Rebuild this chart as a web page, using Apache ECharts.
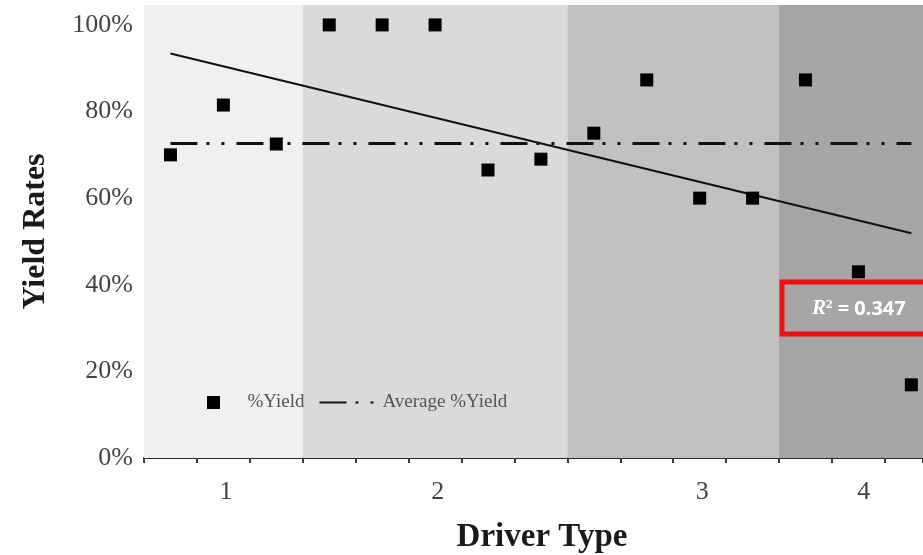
<!DOCTYPE html>
<html>
<head>
<meta charset="utf-8">
<script src="https://cdn.jsdelivr.net/npm/echarts@6/dist/echarts.min.js"></script>
<style>
  html, body { margin: 0; padding: 0; background: #fff; }
  #chart { width: 923px; height: 555px; }
</style>
</head>
<body>
<div id="chart"></div>
<script>
// Driver groups shown under the x axis and where their labels sit (run index units)
const driverTypes = ['1', '2', '3', '4'];
const driverLabelPos = [1.55, 5.55, 10.55, 13.6];
// Run index boundaries of each driver-type band
const bandEdges = [0, 3, 8, 12, 15];
const bandColors = ['#f0f0f0', '#dadada', '#c1c1c1', '#a6a6a6'];

// Yield per run (%), one run per x slot
const yieldPct = [70, 81.5, 72.5, 100, 100, 100, 66.5, 69, 75, 87.3, 60, 60, 87.3, 43, 16.9];
// Average yield (%)
const avgYield = 72.6;
// Linear trend end values (%) at the first and last run
const trendEnds = [93.4, 51.9];
const rSquared = '0.347';

// y-axis ticks
const yTicks = [0, 20, 40, 60, 80, 100];

const serif = '"Liberation Serif", "Times New Roman", serif';

const xs = yieldPct.map((_, i) => i + 0.5);
const scatterData = yieldPct.map((v, i) => [xs[i], v]);
const firstX = xs[0], lastX = xs[xs.length - 1];

const bands = [];
for (let i = 0; i < bandColors.length; i++) {
  bands.push([
    { xAxis: bandEdges[i], itemStyle: { color: bandColors[i] } },
    { xAxis: bandEdges[i + 1] }
  ]);
}

const chart = echarts.init(document.getElementById('chart'), null, { renderer: 'canvas' });

chart.setOption({
  animation: false,
  backgroundColor: '#ffffff',
  grid: { left: 144, right: 0, top: 5, bottom: 97, containLabel: false, outerBoundsMode: 'none' },
  xAxis: {
    type: 'value',
    min: 0,
    max: 14.72,
    interval: 1,
    splitLine: { show: false },
    axisLine: { show: true, lineStyle: { color: '#2a2a2a', width: 2 } },
    axisTick: { show: true, length: 5, lineStyle: { color: '#3a3a3a', width: 2 } },
    axisLabel: {
      customValues: driverLabelPos,
      formatter: v => {
        const k = driverLabelPos.findIndex(p => Math.abs(p - v) < 1e-6);
        return k >= 0 ? driverTypes[k] : '';
      },
      fontFamily: serif,
      fontSize: 26,
      color: '#444',
      margin: 21
    },
    name: 'Driver Type',
    nameLocation: 'middle',
    nameGap: 63,
    nameTextStyle: { fontFamily: serif, fontSize: 33, fontWeight: 'bold', color: '#1a1a1a', padding: [0, 0, 0, 17] }
  },
  yAxis: {
    type: 'value',
    min: 0,
    max: 104.6,
    interval: 20,
    splitLine: { show: false },
    axisLine: { show: false },
    axisTick: { show: false },
    axisLabel: {
      showMaxLabel: false,
      formatter: v => (yTicks.includes(v) ? v + '%' : ''),
      fontFamily: serif,
      fontSize: 26,
      color: '#444',
      margin: 11
    },
    name: 'Yield Rates',
    nameLocation: 'middle',
    nameGap: 92,
    nameTextStyle: { fontFamily: serif, fontSize: 32, fontWeight: 'bold', color: '#1a1a1a' }
  },
  legend: {
    data: [
      { name: '%Yield', icon: 'path://M0 0H10V10H0Z' },
      { name: 'Average %Yield', itemStyle: { opacity: 0 } }
    ],
    left: 202,
    top: 388,
    itemWidth: 58,
    itemHeight: 13,
    itemGap: 14,
    symbolKeepAspect: true,
    textStyle: { fontFamily: serif, fontSize: 19, color: '#555' }
  },
  series: [
    {
      name: 'bands',
      type: 'line',
      data: [],
      silent: true,
      markArea: { silent: true, data: bands }
    },
    {
      name: 'Trend',
      type: 'line',
      data: [[firstX, trendEnds[0]], [lastX, trendEnds[1]]],
      symbol: 'none',
      lineStyle: { color: '#111', width: 2 },
      z: 3
    },
    {
      name: 'Average %Yield',
      type: 'line',
      data: [[firstX, avgYield], [lastX, avgYield]],
      symbol: 'none',
      itemStyle: { color: '#111' },
      lineStyle: { color: '#111', width: 3, type: [27, 9, 3, 12, 3, 12] },
      z: 4
    },
    {
      name: '%Yield',
      type: 'scatter',
      data: scatterData,
      symbol: 'rect',
      symbolSize: 13,
      itemStyle: { color: '#000', opacity: 1 },
      z: 5
    }
  ],
  graphic: [
    {
      type: 'rect',
      z: 100,
      shape: { x: 782, y: 282, width: 150, height: 52 },
      style: { fill: '#a6a6a6', stroke: '#ee1111', lineWidth: 5 }
    },
    {
      type: 'text',
      z: 101,
      x: 812,
      y: 309,
      style: {
        text: '{r|R}{s|2}{n| = ' + rSquared + '}',
        verticalAlign: 'middle',
        rich: {
          r: { fontFamily: serif, fontStyle: 'italic', fontWeight: 'bold', fontSize: 21, fill: '#fff' },
          s: { fontFamily: serif, fontWeight: 'bold', fontSize: 13, fill: '#fff', verticalAlign: 'top' },
          n: { fontFamily: '"Noto Sans", sans-serif', fontWeight: 'bold', fontSize: 20, fill: '#fff' }
        }
      }
    }
  ]
});
</script>
</body>
</html>
